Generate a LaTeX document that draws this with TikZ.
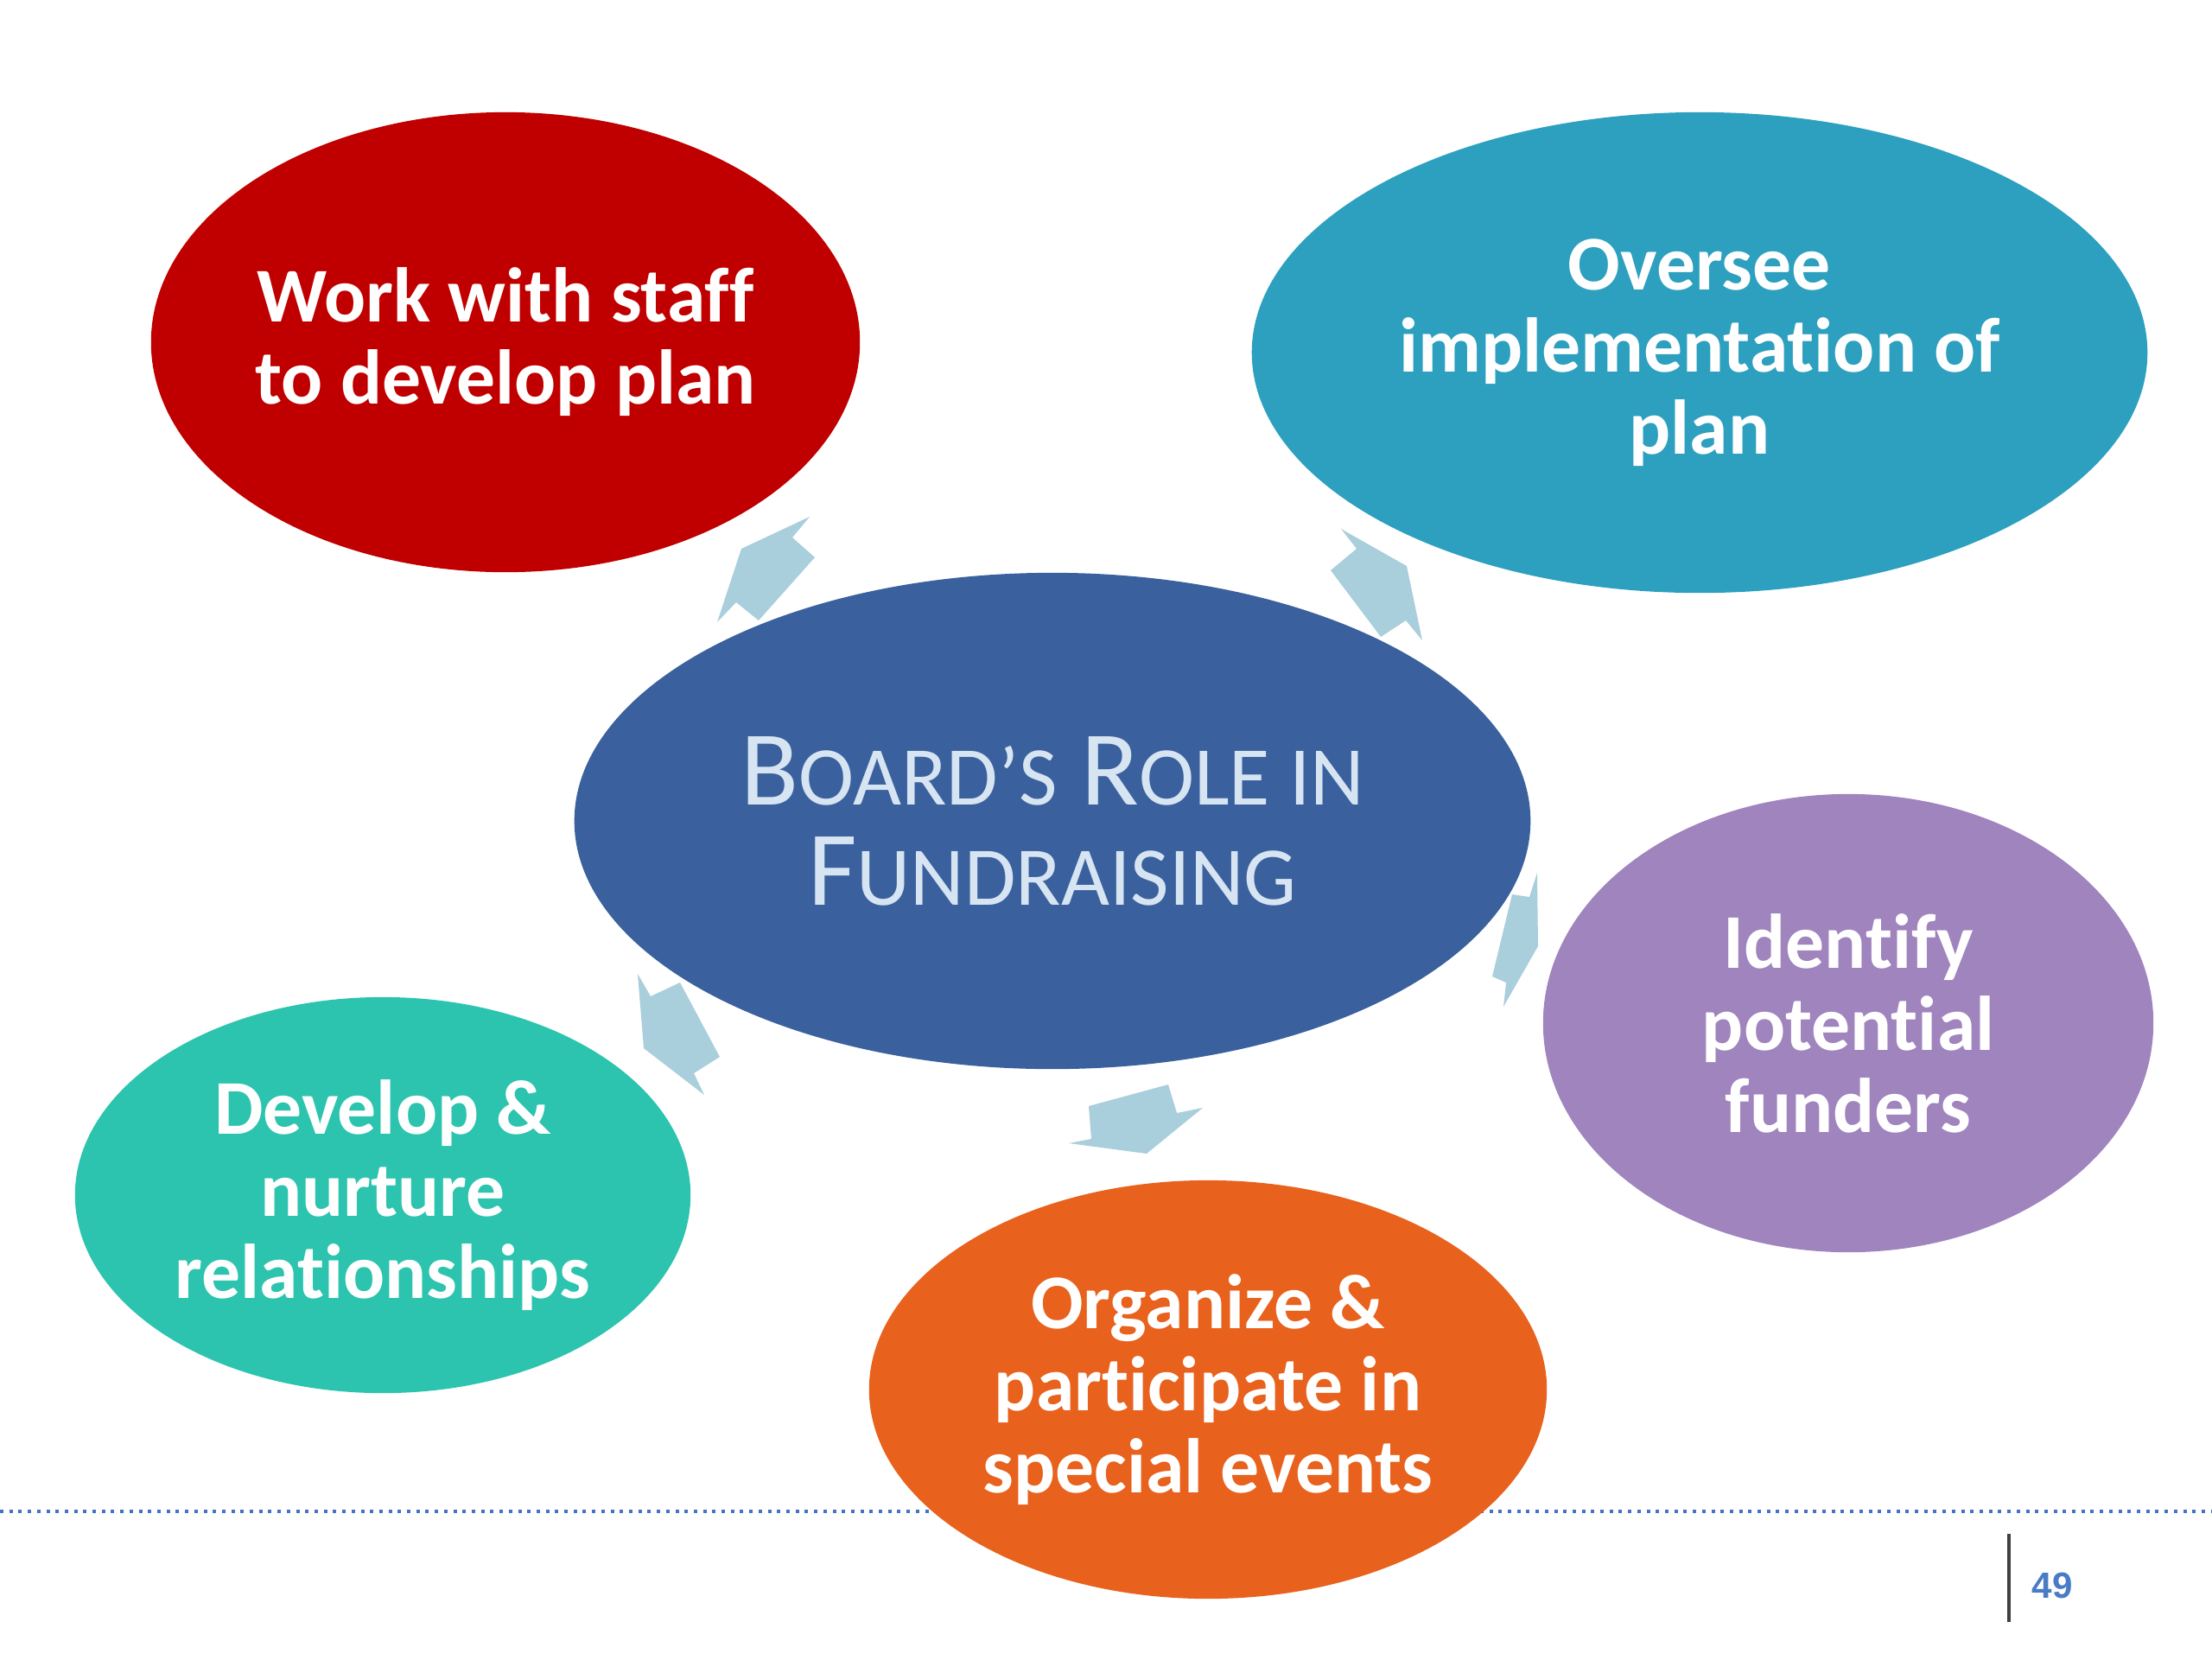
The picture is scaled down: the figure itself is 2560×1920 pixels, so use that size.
\documentclass[tikz,border=0pt]{standalone}
\usepackage{fontspec}
\setmainfont{Carlito}[Ligatures=NoCommon]
\newfontfamily\pagefont{Liberation Sans}
\usetikzlibrary{shapes.geometric}
\definecolor{planred}{HTML}{C00000}
\definecolor{overteal}{HTML}{2DA0BF}
\definecolor{hubblue}{HTML}{3A619D}
\definecolor{fundpurple}{HTML}{A084BE}
\definecolor{relgreen}{HTML}{2CC4AE}
\definecolor{eventorange}{HTML}{E8611D}
\definecolor{spokeblue}{HTML}{A9CEDC}
\definecolor{hubtext}{HTML}{D7E4F2}
\definecolor{footblue}{HTML}{4472C4}
\definecolor{pageblue}{HTML}{4A7CC5}
\newcommand{\capsc}[2]{{\fontsize{35}{33}\selectfont #1}{\fontsize{27.5}{33}\selectfont #2}}
\tikzset{
  bubble/.style={ellipse, inner sep=0pt, align=center, text=white,
                 font=\fontsize{25.5}{27}\selectfont\bfseries},
  hubbubble/.style={ellipse, fill=hubblue, inner sep=0pt, align=center, text=hubtext,
                    font=\fontsize{35}{33}\selectfont},
  spoke/.style={fill=spokeblue, draw=none},
  footdots/.style={draw=footblue, line width=1.2pt, dash pattern=on 0.04cm off 0.067cm},
  pagebar/.style={draw=black!75, line width=1.2pt},
  pagenum/.style={text=pageblue, font=\pagefont\fontsize{12}{14}\selectfont\bfseries}}
\begin{document}
\begin{tikzpicture}[x=0.01cm, y=-0.01cm]
  \useasboundingbox (0,0) rectangle (2560,1920);
  % footer rule, behind the bubbles
  \coordinate (footl) at (0,1749);
  \coordinate (footr) at (2560,1749);
  \draw[footdots] (footl) -- (footr);
  \node[bubble, fill=planred, minimum width=8.2cm, minimum height=5.32cm]
    (plan) at (585,396) {Work with staff\\to develop plan};
  \node[bubble, fill=overteal, minimum width=10.36cm, minimum height=5.56cm]
    (oversee) at (1967,408) {Oversee\\implementation of\\plan};
  \node[hubbubble, minimum width=11.06cm, minimum height=5.74cm]
    (hub) at (1218,950) {\capsc{B}{OARD’S} \capsc{R}{OLE IN}\\\capsc{F}{UNDRAISING}};
  \node[bubble, fill=fundpurple, minimum width=7.06cm, minimum height=5.3cm]
    (funders) at (2139,1184) {Identify\\potential\\funders};
  \node[bubble, fill=relgreen, minimum width=7.12cm, minimum height=4.58cm]
    (relations) at (443,1383) {Develop \&\\nurture\\relationships};
  \node[bubble, fill=eventorange, minimum width=7.84cm, minimum height=4.84cm]
    (events) at (1398,1608) {Organize \&\\participate in\\special events};
  % block arrows out of the hub
  \fill[spoke] (858,635) -- (937,598) -- (917,622) -- (943,645) -- (878,718)
    -- (852,697) -- (830,720) -- cycle;
  \fill[spoke] (1628,655) -- (1552,612) -- (1570,635) -- (1540,660) -- (1598,737)
    -- (1627,718) -- (1646,741) -- cycle;
  \fill[spoke] (1780,1095) -- (1779,1010) -- (1770,1038) -- (1750,1035) -- (1727,1130)
    -- (1743,1137) -- (1740,1165) -- cycle;
  \fill[spoke] (1327,1335) -- (1392,1282) -- (1362,1288) -- (1352,1255) -- (1260,1280)
    -- (1263,1318) -- (1237,1323) -- cycle;
  \fill[spoke] (745,1213) -- (738,1127) -- (753,1153) -- (787,1137) -- (833,1223)
    -- (803,1242) -- (815,1267) -- cycle;
  % page number
  \coordinate (bartop) at (2325,1775);
  \coordinate (barbot) at (2325,1877);
  \draw[pagebar] (bartop) -- (barbot);
  \node[pagenum] (page) at (2375,1835) {49};
\end{tikzpicture}
\end{document}
